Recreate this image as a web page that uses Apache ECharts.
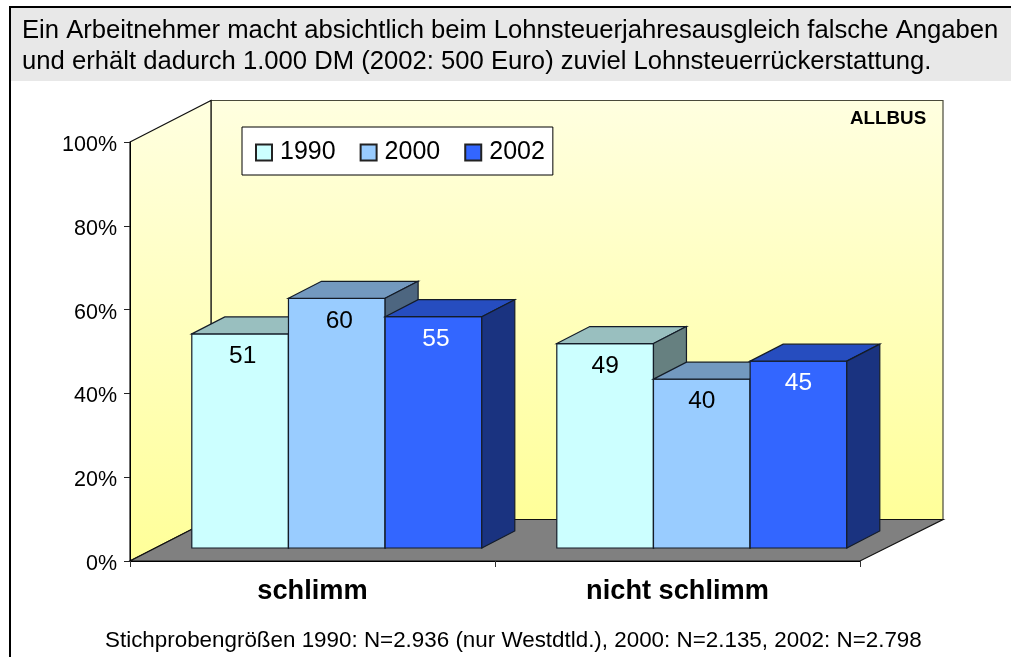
<!DOCTYPE html>
<html>
<head>
<meta charset="utf-8">
<style>html,body{margin:0;padding:0;background:#fff}#c{width:1011px;height:657px}</style>
<script src="https://cdn.jsdelivr.net/npm/echarts@6/dist/echarts.min.js"></script>
</head>
<body>
<div id="c"></div>
<script>
const categories = ['schlimm', 'nicht schlimm'];
const years = ['1990', '2000', '2002'];
const values1990 = [51.1, 48.8];
const values2000 = [59.6, 40.3];
const values2002 = [55.2, 44.6];
const yTicks = [0, 20, 40, 60, 80, 100];
const titleText = 'Ein Arbeitnehmer macht absichtlich beim Lohnsteuerjahresausgleich falsche Angaben\nund erhält dadurch 1.000 DM (2002: 500 Euro) zuviel Lohnsteuerrückerstattung.';
const footText = 'Stichprobengrößen 1990: N=2.936 (nur Westdtld.), 2000: N=2.135, 2002: N=2.798';
const sourceText = 'ALLBUS';

const frontColors = ['#CCFFFF', '#99CCFF', '#3366FF'];
const topColors = ['#99BFBF', '#7399BF', '#264DBF'];
const sideColors = ['#668080', '#4D6680', '#1A3380'];
const labelColors = ['#000', '#000', '#fff'];
const edge = '#141c28';

const WALL_DX_LEFT = 81, WALL_DX_RIGHT = 83, WALL_DY = -41.5; // depth of the floor
const BAR_SHIFT_X = 24.3, BAR_SHIFT_Y = -13; // bar front plane relative to chart front plane
const BAR_DX = 33, BAR_DY = -17;       // bar depth
const GROUP_FRACTION = 290 / 365;
const LABEL_DX = [2.5, 0];

function wallItem(params, api) {
  const cs = params.coordSys;
  const x0 = cs.x, y0 = cs.y, x1 = cs.x + cs.width, y1 = cs.y + cs.height;
  const bl = x0 + WALL_DX_LEFT, br = x1 + WALL_DX_RIGHT;
  const grad = () => new echarts.graphic.LinearGradient(0, 0, 0, 1, [
    { offset: 0, color: '#FFFFE0' }, { offset: 1, color: '#FFFF99' }
  ]);
  const poly = (pts, style) => ({ type: 'polygon', shape: { points: pts }, style });
  return {
    type: 'group',
    children: [
      poly([[bl, y0 + WALL_DY], [br, y0 + WALL_DY], [br, y1 + WALL_DY], [bl, y1 + WALL_DY]],
        { fill: grad(), stroke: '#4a4a3a', lineWidth: 1.2 }),
      poly([[x0, y0], [bl, y0 + WALL_DY], [bl, y1 + WALL_DY], [x0, y1]],
        { fill: grad(), stroke: '#111', lineWidth: 1.2 }),
      poly([[x0, y1], [x1, y1], [br, y1 + WALL_DY], [bl, y1 + WALL_DY]],
        { fill: '#808080', stroke: '#111', lineWidth: 1.2 })
    ]
  };
}

function barRenderer(seriesIndex) {
  return function (params, api) {
    const cat = api.value(0), val = api.value(1);
    const base = api.coord([cat, 0]);
    const top = api.coord([cat, val]);
    const groupW = api.size([1, 0])[0] * GROUP_FRACTION;
    const w = groupW / years.length;
    const xl = base[0] - groupW / 2 + seriesIndex * w + BAR_SHIFT_X;
    const xr = xl + w;
    const yt = top[1] + BAR_SHIFT_Y;
    const yb = base[1] + BAR_SHIFT_Y;
    const st = (fill) => ({ fill, stroke: edge, lineWidth: 1.2 });
    return {
      type: 'group',
      children: [
        { type: 'polygon', shape: { points: [[xl, yt], [xr, yt], [xr, yb], [xl, yb]] }, style: st(frontColors[seriesIndex]) },
        { type: 'polygon', shape: { points: [[xl, yt], [xl + BAR_DX, yt + BAR_DY], [xr + BAR_DX, yt + BAR_DY], [xr, yt]] }, style: st(topColors[seriesIndex]) },
        { type: 'polygon', shape: { points: [[xr, yt], [xr + BAR_DX, yt + BAR_DY], [xr + BAR_DX, yb + BAR_DY], [xr, yb]] }, style: st(sideColors[seriesIndex]) },
        { type: 'text', x: (xl + xr) / 2 + LABEL_DX[cat], y: yt + 22.5,
          style: { text: String(Math.round(val)), fill: labelColors[seriesIndex], font: '24.5px "Liberation Sans", Arial, sans-serif', textAlign: 'center', textVerticalAlign: 'middle' } }
      ]
    };
  };
}

const seriesValues = [values1990, values2000, values2002];
const barSeries = years.map((y, i) => ({
  name: y,
  type: 'custom',
  coordinateSystem: 'cartesian2d',
  renderItem: barRenderer(i),
  encode: { x: 0, y: 1 },
  clip: false,
  z: 3 + i,
  itemStyle: { color: frontColors[i], borderColor: '#222', borderWidth: 1 },
  data: categories.map((c, k) => [k, seriesValues[i][k]])
}));

const chart = echarts.init(document.getElementById('c'));
chart.setOption({
  animation: false,
  backgroundColor: '#fff',
  textStyle: { fontFamily: '"Liberation Sans", Arial, sans-serif', color: '#000' },
  graphic: [
    { type: 'rect', z: -10, shape: { x: 10, y: 8, width: 1001, height: 73 }, style: { fill: '#E8E8E8' } },
    { type: 'line', z: -9, shape: { x1: 9, y1: 7, x2: 1011, y2: 7 }, style: { stroke: '#000', lineWidth: 2 } },
    { type: 'line', z: -9, shape: { x1: 10, y1: 6, x2: 10, y2: 657 }, style: { stroke: '#000', lineWidth: 2 } }
  ],
  title: [
    { text: titleText, left: 22, top: 15.5, padding: 0,
      textStyle: { fontSize: 25.65, fontWeight: 'normal', lineHeight: 31, color: '#000', fontFamily: '"Liberation Sans", Arial, sans-serif' } },
    { text: footText, left: 105, top: 630, padding: 0,
      textStyle: { fontSize: 22.4, fontWeight: 'normal', color: '#000', fontFamily: '"Liberation Sans", Arial, sans-serif' } },
    { text: sourceText, left: 850, top: 109, padding: 0,
      textStyle: { fontSize: 18.8, fontWeight: 'bold', color: '#000', fontFamily: '"Liberation Sans", Arial, sans-serif' } }
  ],
  legend: {
    show: true, left: 242, top: 127, orient: 'horizontal',
    data: years,
    backgroundColor: '#fff', borderColor: '#000', borderWidth: 1, borderRadius: 0,
    padding: [13, 8, 10, 13],
    itemWidth: 16, itemHeight: 16, itemGap: 24,
    icon: 'rect',
    textStyle: { fontSize: 25, color: '#000', padding: [0, 0, 0, 3], fontFamily: '"Liberation Sans", Arial, sans-serif' },
    selectedMode: false
  },
  grid: { left: 130, right: 151, top: 142, bottom: 96, containLabel: false },
  xAxis: {
    type: 'category', data: categories, z: 10,
    axisLine: { show: true, lineStyle: { color: '#000', width: 1 } },
    axisTick: { show: true, length: 6, lineStyle: { color: '#333' }, alignWithLabel: false },
    axisLabel: { margin: 17.5, fontSize: 27.2, fontWeight: 'bold', color: '#000', fontFamily: '"Liberation Sans", Arial, sans-serif' },
    splitLine: { show: false }
  },
  yAxis: {
    type: 'value', min: yTicks[0], max: yTicks[yTicks.length - 1], interval: yTicks[1] - yTicks[0], z: 10,
    axisLine: { show: true, lineStyle: { color: '#000', width: 1 } },
    axisTick: { show: true, length: 6, lineStyle: { color: '#222' } },
    axisLabel: { margin: 13, color: '#000', formatter: '{a|{value}%}',
      rich: { a: { fontSize: 21.5, color: '#000', padding: [6, 0, 0, 0], fontFamily: '"Liberation Sans", Arial, sans-serif' } } },
    splitLine: { show: false }
  },
  series: [
    { type: 'custom', name: 'Wände', coordinateSystem: 'cartesian2d', renderItem: wallItem, clip: false, z: 1, data: [[0, 0]], encode: { x: 0, y: 1 }, silent: true }
  ].concat(barSeries)
});
</script>
</body>
</html>
